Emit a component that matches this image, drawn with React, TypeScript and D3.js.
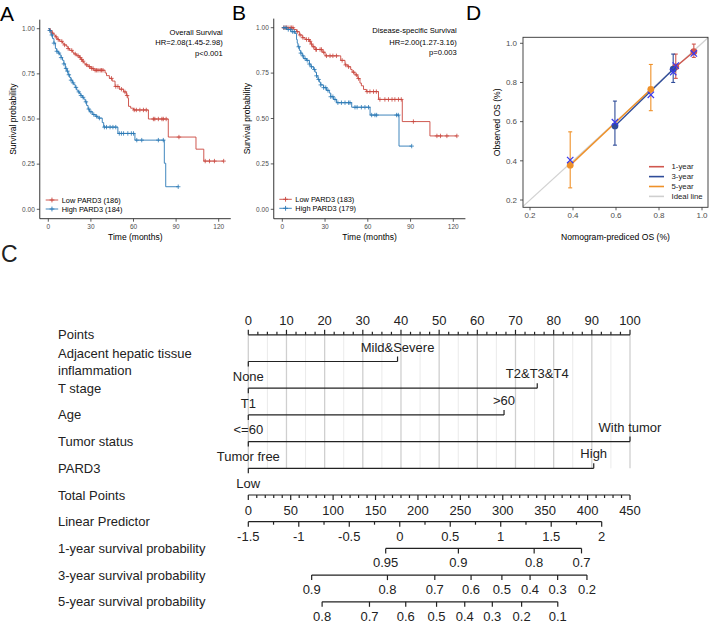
import React from 'react';
import * as d3 from 'd3';

type Step = [number, number];

const FONT = "'Liberation Sans', Arial, Helvetica, sans-serif";
const RED = '#C9463D';
const BLUE = '#2A78B5';

// ---------- KM data ----------
const KM_TIME_TICKS = [0, 30, 60, 90, 120];
const KM_SURV_TICKS = [0, 0.25, 0.5, 0.75, 1];
const KM_SURV_LABELS = ['0.00', '0.25', '0.50', '0.75', '1.00'];

// Overall survival, Low PARD3 (n=186)
const osLowSteps: Step[] = [
  [1, 0.99], [2, 0.98], [3, 0.975], [4, 0.965], [5, 0.955], [6, 0.945], [7, 0.94], [8, 0.93], [10, 0.92],
  [11, 0.91], [13, 0.9], [14, 0.89], [15, 0.88], [17, 0.87], [18, 0.86], [20, 0.85], [22, 0.84], [23, 0.83],
  [24, 0.82], [25, 0.81], [26, 0.8], [28, 0.79], [30, 0.78], [32, 0.77], [40, 0.755], [41, 0.74], [43, 0.725],
  [45, 0.71], [47, 0.68], [50, 0.665], [53, 0.65], [55, 0.63], [56, 0.615], [56.5, 0.57], [58, 0.56], [60, 0.55],
  [70.5, 0.5], [84.5, 0.4], [104, 0.333], [109.5, 0.267],
];
const osLowEnd = 123.5;
const osLowCensor = [1.5, 3, 5.5, 7, 9.5, 11.5, 14, 16.5, 19, 21, 22.5, 23.5, 24.5, 27, 29, 30.5, 31.5, 33, 34, 35,
  36.5, 37.5, 38.5, 44.5, 47.5, 49, 51.5, 54, 55.5, 60.5, 62, 64.5, 67, 69, 74, 75, 77.5, 80, 81, 83, 92, 110.5,
  113.5, 117, 123.5];

// Overall survival, High PARD3 (n=184)
const osHighSteps: Step[] = [
  [1, 0.99], [2, 0.965], [3, 0.945], [4, 0.92], [5, 0.89], [6, 0.875], [7, 0.865], [8, 0.855], [9, 0.84],
  [10, 0.825], [11, 0.805], [12, 0.78], [13, 0.765], [14, 0.745], [15, 0.73], [16, 0.715], [17, 0.7], [18, 0.69],
  [19, 0.675], [20, 0.66], [21, 0.65], [22, 0.64], [23, 0.63], [24, 0.62], [25, 0.61], [26, 0.595], [27, 0.575],
  [28, 0.555], [29, 0.54], [31, 0.525], [33, 0.515], [35, 0.505], [38, 0.48], [39, 0.455], [49, 0.42], [61, 0.383],
  [81.7, 0.255], [82.7, 0.125],
];
const osHighEnd = 91.5;
const osHighCensor = [1, 2.5, 4, 6, 7.5, 9, 11, 12.5, 13.5, 14.5, 16, 17.5, 19.5, 21.5, 23, 24.5, 26.5, 28.5, 30,
  32, 34, 36, 39.5, 41, 43.5, 45.5, 47.5, 50, 51.5, 53, 56, 58.5, 60, 62.3, 65.8, 77.5, 81, 91.5];

// Disease-specific survival, Low PARD3 (n=183)
const dssLowSteps: Step[] = [
  [8, 0.99], [10, 0.978], [12, 0.96], [14, 0.945], [16, 0.935], [19, 0.925], [20, 0.91], [21, 0.895], [23, 0.88],
  [28, 0.865], [30, 0.845], [41, 0.82], [44, 0.795], [46, 0.785], [48, 0.77], [49, 0.755], [51, 0.74], [53, 0.72],
  [54.5, 0.695], [55.5, 0.68], [57, 0.66], [59, 0.648], [67.5, 0.605], [84.2, 0.483], [103.6, 0.404],
];
const dssLowEnd = 122.5;
const dssLowCensor = [1, 2, 3, 4, 5.5, 6.5, 7.5, 10.5, 12.5, 14.5, 17, 18.5, 19.5, 20.5, 22, 23.5, 24, 26.5, 27.5,
  29, 31, 33.5, 35.5, 38, 42, 44.5, 46.5, 50, 52, 53.5, 59.5, 61.5, 64, 66, 68.5, 72, 74.5, 77, 79, 81.5, 83.5, 92,
  108.5, 111, 115.5, 122.5];

// Disease-specific survival, High PARD3 (n=179)
const dssHighSteps: Step[] = [
  [3, 0.99], [6, 0.978], [9, 0.968], [10, 0.935], [10.5, 0.915], [11, 0.895], [12, 0.875], [13, 0.86], [14, 0.845],
  [15, 0.83], [17, 0.82], [19, 0.8], [20, 0.785], [22, 0.77], [23, 0.755], [24, 0.735], [25, 0.715], [26, 0.7],
  [27, 0.685], [29, 0.67], [31, 0.655], [33, 0.64], [34, 0.62], [36, 0.605], [38, 0.587], [48.7, 0.562],
  [61.6, 0.519], [81.9, 0.348],
];
const dssHighEnd = 90.8;
const dssHighCensor = [1.2, 2.6, 4.2, 5.9, 7.3, 8.5, 11.5, 13, 14.5, 16, 17.5, 19, 20.5, 22.5, 24, 25.5, 27, 29,
  30.5, 32, 34, 35.5, 37, 39, 41.5, 44, 46.5, 47.5, 51, 52.5, 55.5, 58, 60.5, 62.7, 65, 66.2, 80.2, 81.4, 90.8];

// ---------- Calibration data ----------
const calTicks = [0.2, 0.4, 0.6, 0.8, 1.0];
const cal1Pred = [0.878, 0.962];
const cal1Obs = [0.88, 0.957];
const cal1Lo = [0.821, 0.928];
const cal1Hi = [0.945, 0.996];
const cal3Pred = [0.595, 0.866];
const cal3Obs = [0.578, 0.868];
const cal3Lo = [0.48, 0.8];
const cal3Hi = [0.705, 0.945];
const cal5Pred = [0.387, 0.762];
const cal5Obs = [0.378, 0.765];
const cal5Lo = [0.262, 0.656];
const cal5Hi = [0.548, 0.892];
const calCorrPred = [0.387, 0.595, 0.762, 0.866, 0.878, 0.962];
const calCorrObs = [0.404, 0.597, 0.737, 0.853, 0.886, 0.948];
const CAL_RED = '#D0574E';
const CAL_BLUE = '#2F4C99';
const CAL_ORANGE = '#EF9129';
const CAL_X = '#3A3AEE';

// ---------- Nomogram data ----------
const nomoVarNames = [['Adjacent hepatic tissue', 'inflammation'], ['T stage'], ['Age'], ['Tumor status'], ['PARD3']];
const nomoVarLevels = [['None', 'Mild&Severe'], ['T1', 'T2&T3&T4'], ['<=60', '>60'], ['Tumor free', 'With tumor'], ['Low', 'High']];
const nomoVarPoints = [[0, 39.1], [0, 75.7], [0, 67], [0, 100], [0, 90.5]];
const pointsTicks = d3.range(0, 101, 10);
const pointsMinor = d3.range(0, 100.01, 2.5);
const gridVals = d3.range(0, 101, 5);
const totalTicks = d3.range(0, 451, 50);
const totalMinor = d3.range(0, 451, 10);
const lpTicks = [-1.5, -1, -0.5, 0, 0.5, 1, 1.5, 2];
const lpMinor = d3.range(-1.5, 2.001, 0.25);
const survYears = [1, 3, 5];
const survTicks = [
  [0.95, 0.9, 0.8, 0.7],
  [0.9, 0.8, 0.7, 0.6, 0.5, 0.4, 0.3, 0.2],
  [0.8, 0.7, 0.6, 0.5, 0.4, 0.3, 0.2, 0.1],
];
const baseLogLog = [-2.831, -1.378, -0.731]; // log(-log S0(t)) for 1,3,5 years

function survAt(steps: Step[], t: number) {
  let s = 1;
  for (const [tt, ss] of steps) if (tt <= t) s = ss;
  return s;
}

type Group = { steps: Step[]; end: number; censor: number[]; color: string; label: string };

function KMPanel(props: {
  xr: [number, number]; yr: [number, number]; groups: Group[]; ann: string[]; annX: number; annY: number[];
  letter: string; letterX: number; letterY: number; ylabX: number; legX: number; legY: number[];
}) {
  const { xr, yr, groups, ann, annX, annY, letter, letterX, letterY, ylabX, legX, legY } = props;
  const x = d3.scaleLinear().domain([0, 120]).range(xr);
  const y = d3.scaleLinear().domain([0, 1]).range(yr);
  const xL = x(-6), xR = x(128.5), yB = y(-0.052), yT = y(1.05);
  const line = d3.line<Step>().x(d => x(d[0])).y(d => y(d[1])).curve(d3.curveStepAfter);
  const plus = (cx: number, cy: number, r = 2.2) => `M${cx - r},${cy}h${2 * r}M${cx},${cy - r}v${2 * r}`;
  return (
    <g fontFamily={FONT}>
      <text x={letterX} y={letterY} fontSize={21}>{letter}</text>
      {groups.map((g, i) => {
        const pts: Step[] = [[0, 1], ...g.steps, [g.end, g.steps[g.steps.length - 1][1]]];
        return (
          <g key={i}>
            <path d={line(pts) || ''} fill="none" stroke={g.color} strokeWidth={0.9} />
            <path d={g.censor.map(t => plus(x(t), y(survAt(g.steps, t)))).join('')} stroke={g.color} strokeWidth={0.8} fill="none" />
          </g>
        );
      })}
      <line x1={xL} x2={xL} y1={yT} y2={yB} stroke="#000" strokeWidth={0.8} />
      <line x1={xL} x2={xR} y1={yB} y2={yB} stroke="#000" strokeWidth={0.8} />
      {KM_SURV_TICKS.map((v, i) => (
        <g key={'y' + i}>
          <line x1={xL - 3} x2={xL} y1={y(v)} y2={y(v)} stroke="#333" strokeWidth={0.8} />
          <text x={xL - 5} y={y(v)} dy="0.35em" textAnchor="end" fontSize={6.5} fill="#4d4d4d">{KM_SURV_LABELS[i]}</text>
        </g>
      ))}
      {KM_TIME_TICKS.map(v => (
        <g key={'x' + v}>
          <line x1={x(v)} x2={x(v)} y1={yB} y2={yB + 3} stroke="#333" strokeWidth={0.8} />
          <text x={x(v)} y={yB + 8} dy="0.35em" textAnchor="middle" fontSize={6.5} fill="#4d4d4d">{v}</text>
        </g>
      ))}
      <text transform={`translate(${ylabX},${(yT + yB) / 2}) rotate(-90)`} textAnchor="middle" dy="0.35em" fontSize={8.5}>Survival probability</text>
      <text x={(xL + xR) / 2} y={yB + 18} dy="0.35em" textAnchor="middle" fontSize={8.5}>Time (months)</text>
      {ann.map((t, i) => (
        <text key={i} x={annX} y={annY[i]} dy="0.35em" textAnchor="end" fontSize={7.6}>{t}</text>
      ))}
      {groups.map((g, i) => (
        <g key={'l' + i}>
          <line x1={legX} x2={legX + 12.5} y1={legY[i]} y2={legY[i]} stroke={g.color} strokeWidth={0.9} />
          <path d={plus(legX + 6.25, legY[i], 2.4)} stroke={g.color} strokeWidth={0.9} />
          <text x={legX + 16} y={legY[i]} dy="0.35em" fontSize={7.4}>{g.label}</text>
        </g>
      ))}
    </g>
  );
}

function CalPanel() {
  const x = d3.scaleLinear().domain([0.2, 1.0]).range([530, 702]);
  const y = d3.scaleLinear().domain([0.2, 1.0]).range([200, 43.3]);
  const bx0 = 523, bx1 = 708, by0 = 37.3, by1 = 207.3;
  const lo = Math.max(x.invert(bx0), y.invert(by1));
  const hi = Math.min(x.invert(bx1), y.invert(by0));
  const series = [
    { pred: cal1Pred, obs: cal1Obs, lo: cal1Lo, hi: cal1Hi, color: CAL_RED },
    { pred: cal3Pred, obs: cal3Obs, lo: cal3Lo, hi: cal3Hi, color: CAL_BLUE },
    { pred: cal5Pred, obs: cal5Obs, lo: cal5Lo, hi: cal5Hi, color: CAL_ORANGE },
  ];
  const legend = [
    { label: '1-year', color: CAL_RED },
    { label: '3-year', color: CAL_BLUE },
    { label: '5-year', color: CAL_ORANGE },
    { label: 'Ideal line', color: '#CFCFCF' },
  ];
  return (
    <g fontFamily={FONT}>
      <text x={466} y={20} fontSize={21}>D</text>
      <line x1={x(lo)} y1={y(lo)} x2={x(hi)} y2={y(hi)} stroke="#D2D2D2" strokeWidth={1.3} />
      {series.map((s, si) => (
        <g key={'e' + si}>
          {s.pred.map((p, i) => (
            <g key={i} stroke={s.color} strokeWidth={1.1}>
              <line x1={x(p)} x2={x(p)} y1={y(s.lo[i])} y2={y(s.hi[i])} />
              <line x1={x(p) - 2} x2={x(p) + 2} y1={y(s.lo[i])} y2={y(s.lo[i])} />
              <line x1={x(p) - 2} x2={x(p) + 2} y1={y(s.hi[i])} y2={y(s.hi[i])} />
            </g>
          ))}
        </g>
      ))}
      {series.map((s, si) => (
        <path key={'l' + si}
          d={d3.line<number>().x(p => x(p)).y((_, i) => y(s.obs[i]))(s.pred) || ''}
          stroke={s.color} strokeWidth={1.4} fill="none" />
      ))}
      {series.map((s, si) => (
        <g key={'p' + si}>
          {s.pred.map((p, i) => (
            <circle key={i} cx={x(p)} cy={y(s.obs[i])} r={3.4} fill={s.color} />
          ))}
        </g>
      ))}
      {calCorrPred.map((p, i) => {
        const cx = x(p), cy = y(calCorrObs[i]), r = 3.2;
        return <path key={'x' + i} d={`M${cx - r},${cy - r}L${cx + r},${cy + r}M${cx - r},${cy + r}L${cx + r},${cy - r}`} stroke={CAL_X} strokeWidth={1.2} />;
      })}
      <rect x={bx0} y={by0} width={bx1 - bx0} height={by1 - by0} fill="none" stroke="#333" strokeWidth={0.9} />
      {calTicks.map(v => (
        <g key={'xt' + v}>
          <line x1={x(v)} x2={x(v)} y1={by1} y2={by1 + 3} stroke="#333" strokeWidth={0.8} />
          <text x={x(v)} y={by1 + 8} dy="0.35em" textAnchor="middle" fontSize={8} fill="#4d4d4d">{v.toFixed(1)}</text>
        </g>
      ))}
      {calTicks.map(v => (
        <g key={'yt' + v}>
          <line x1={bx0 - 3} x2={bx0} y1={y(v)} y2={y(v)} stroke="#333" strokeWidth={0.8} />
          <text x={bx0 - 6} y={y(v)} dy="0.35em" textAnchor="end" fontSize={8} fill="#4d4d4d">{v.toFixed(1)}</text>
        </g>
      ))}
      <text transform={`translate(497,${(by0 + by1) / 2}) rotate(-90)`} textAnchor="middle" dy="0.35em" fontSize={8.6}>Observed OS (%)</text>
      <text x={(bx0 + bx1) / 2} y={237} dy="0.35em" textAnchor="middle" fontSize={8.6}>Nomogram-prediced OS (%)</text>
      {legend.map((l, i) => (
        <g key={'lg' + i}>
          <line x1={649} x2={664} y1={166.7 + i * 9.9} y2={166.7 + i * 9.9} stroke={l.color} strokeWidth={1.6} />
          <text x={671.5} y={166.7 + i * 9.9} dy="0.35em" fontSize={7.8} fill="#222">{l.label}</text>
        </g>
      ))}
    </g>
  );
}

function Nomogram() {
  const x0 = 248.3;
  const ptsX = d3.scaleLinear().domain([0, 100]).range([x0, 630]);
  const totX = d3.scaleLinear().domain([0, 450]).range([x0, 630]);
  const lpX = d3.scaleLinear().domain([-1.5, 2]).range([x0, 601.7]);
  const rowY = (i: number) => 334.8 + 26.7 * i;
  const fs = 13;
  const ink = '#222';
  const sw = 1.2;
  const labels: string[][] = [['Points'], ...nomoVarNames, ['Total Points'], ['Linear Predictor'],
    ...survYears.map(yv => [`${yv}-year survival probability`])];
  const gridBottom = rowY(5);
  return (
    <g fontFamily={FONT} fill={ink}>
      <text x={1} y={262} fontSize={23}>C</text>
      {gridVals.map(v => (
        <line key={'g' + v} x1={ptsX(v)} x2={ptsX(v)} y1={rowY(0)} y2={gridBottom}
          stroke={v % 10 === 0 ? '#CFCFCF' : '#E8E8E8'} strokeWidth={v % 10 === 0 ? 1.3 : 0.9} />
      ))}
      {labels.map((ls, i) => (
        <g key={'lab' + i}>
          {ls.map((t, j) => (
            <text key={j} x={58} y={rowY(i) + (ls.length === 2 ? (j === 0 ? -8.5 : 8.5) : 0)} dy="0.35em" fontSize={fs}>{t}</text>
          ))}
        </g>
      ))}
      {/* Points axis */}
      <line x1={ptsX(0)} x2={ptsX(100)} y1={rowY(0)} y2={rowY(0)} stroke={ink} strokeWidth={sw} />
      {pointsMinor.map(v => (
        <line key={'pm' + v} x1={ptsX(v)} x2={ptsX(v)} y1={rowY(0)} y2={rowY(0) - (v % 10 === 0 ? 5 : 3)} stroke={ink} strokeWidth={sw} />
      ))}
      {pointsTicks.map(v => (
        <text key={'pt' + v} x={ptsX(v)} y={rowY(0) - 14.5} dy="0.35em" textAnchor="middle" fontSize={fs}>{v}</text>
      ))}
      {/* Variables */}
      {nomoVarPoints.map((pts, i) => {
        const yy = rowY(i + 1);
        return (
          <g key={'v' + i}>
            <line x1={ptsX(pts[0])} x2={ptsX(pts[1])} y1={yy} y2={yy} stroke={ink} strokeWidth={sw} />
            {pts.map((p, j) => (
              <g key={j}>
                <line x1={ptsX(p)} x2={ptsX(p)} y1={yy} y2={j === 0 ? yy + 5 : yy - 5} stroke={ink} strokeWidth={sw} />
                <text x={ptsX(p)} y={j === 0 ? yy + 15 : yy - 14.5} dy="0.35em" textAnchor="middle" fontSize={fs}>{nomoVarLevels[i][j]}</text>
              </g>
            ))}
          </g>
        );
      })}
      {/* Total points */}
      <line x1={totX(0)} x2={totX(450)} y1={rowY(6)} y2={rowY(6)} stroke={ink} strokeWidth={sw} />
      {totalMinor.map(v => (
        <line key={'tm' + v} x1={totX(v)} x2={totX(v)} y1={rowY(6)} y2={rowY(6) + (v % 50 === 0 ? 5 : 3)} stroke={ink} strokeWidth={sw} />
      ))}
      {totalTicks.map(v => (
        <text key={'tt' + v} x={totX(v)} y={rowY(6) + 15} dy="0.35em" textAnchor="middle" fontSize={fs}>{v}</text>
      ))}
      {/* Linear predictor */}
      <line x1={lpX(-1.5)} x2={lpX(2)} y1={rowY(7)} y2={rowY(7)} stroke={ink} strokeWidth={sw} />
      {lpMinor.map(v => (
        <line key={'lm' + v} x1={lpX(v)} x2={lpX(v)} y1={rowY(7)} y2={rowY(7) + (Math.abs(v * 2 - Math.round(v * 2)) < 1e-6 ? 5 : 3)} stroke={ink} strokeWidth={sw} />
      ))}
      {lpTicks.map(v => (
        <text key={'lt' + v} x={lpX(v)} y={rowY(7) + 15} dy="0.35em" textAnchor="middle" fontSize={fs}>{String(v)}</text>
      ))}
      {/* Survival probabilities */}
      {survTicks.map((ticks, k) => {
        const yy = rowY(8 + k);
        const sx = (s: number) => lpX(Math.log(-Math.log(s)) - baseLogLog[k]);
        return (
          <g key={'s' + k}>
            <line x1={sx(ticks[0])} x2={sx(ticks[ticks.length - 1])} y1={yy} y2={yy} stroke={ink} strokeWidth={sw} />
            {ticks.map(s => (
              <g key={s}>
                <line x1={sx(s)} x2={sx(s)} y1={yy} y2={yy + 5} stroke={ink} strokeWidth={sw} />
                <text x={sx(s)} y={yy + 14.2} dy="0.35em" textAnchor="middle" fontSize={fs}>{String(s)}</text>
              </g>
            ))}
          </g>
        );
      })}
    </g>
  );
}

export default function App() {
  return (
    <svg width={709} height={623} viewBox="0 0 709 623"
      style={{ position: 'absolute', left: 0, top: 0, background: '#fff', display: 'block' }}>
      <rect x={0} y={0} width={709} height={623} fill="#fff" />
      <KMPanel xr={[48.3, 218.7]} yr={[209.3, 28.7]}
        groups={[
          { steps: osLowSteps, end: osLowEnd, censor: osLowCensor, color: RED, label: 'Low PARD3 (186)' },
          { steps: osHighSteps, end: osHighEnd, censor: osHighCensor, color: BLUE, label: 'High PARD3 (184)' },
        ]}
        ann={['Overall Survival', 'HR=2.08(1.45-2.98)', 'p<0.001']} annX={222.7} annY={[32.3, 42.5, 53]}
        letter="A" letterX={0} letterY={21} ylabX={13.3} legX={45.7} legY={[200, 209]} />
      <KMPanel xr={[282.3, 453.3]} yr={[209.3, 27.7]}
        groups={[
          { steps: dssLowSteps, end: dssLowEnd, censor: dssLowCensor, color: RED, label: 'Low PARD3 (183)' },
          { steps: dssHighSteps, end: dssHighEnd, censor: dssHighCensor, color: BLUE, label: 'High PARD3 (179)' },
        ]}
        ann={['Disease-specific Survival', 'HR=2.00(1.27-3.16)', 'p=0.003']} annX={456.7} annY={[30.7, 42.3, 52.7]}
        letter="B" letterX={232} letterY={20} ylabX={246.7} legX={279.3} legY={[199.3, 208.3]} />
      <CalPanel />
      <Nomogram />
    </svg>
  );
}
